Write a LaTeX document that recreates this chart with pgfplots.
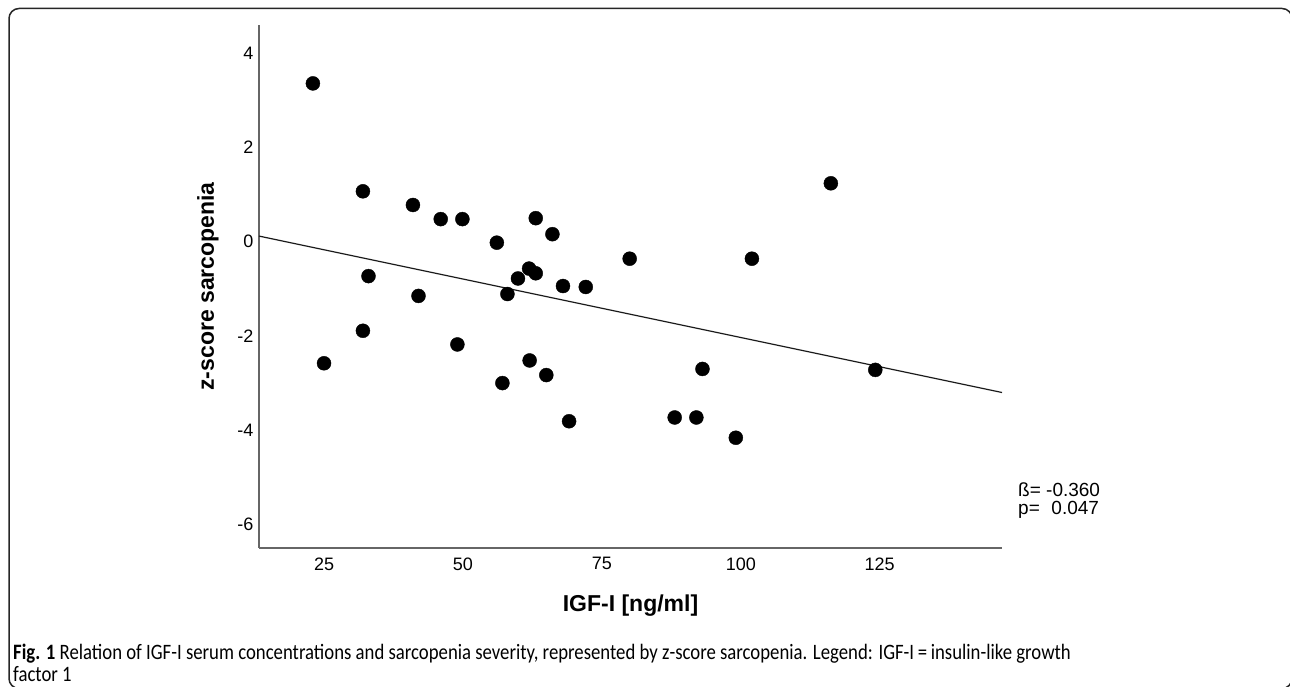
\documentclass[border=0pt]{standalone}
\usepackage{fontspec}
\setmainfont{Liberation Sans}
\newfontfamily\capfont[FakeStretch=0.852]{Carlito}
\usepackage{pgfplots}
\pgfplotsset{compat=1.18}

\begin{document}
\begin{tikzpicture}[x=1pt,y=1pt]
\useasboundingbox (0,0) rectangle (1290,687);
% figure frame
\draw[line width=1.5pt, rounded corners=10pt, black!85] (9,-1.5) rectangle (1292,678.5);

\begin{axis}[
   at={(259pt,139pt)}, anchor=south west,
   scale only axis, width=743pt, height=523pt,
   xmin=13.3, xmax=147, ymin=-6.5, ymax=4.6,
   axis x line*=bottom, axis y line*=left,
   axis line style={-, black!60, line width=1.2pt},
   xtick={25,50,75,100,125}, ytick={-6,-4,-2,0,2,4},
   major tick length=0pt,
   tick label style={font=\fontsize{18}{20}\selectfont},
   xticklabel style={yshift=-6pt},
   yticklabel style={xshift=-2pt},
   /pgf/number format/assume math mode=true,
   xlabel={IGF-I [ng/ml]},
   ylabel={z-score sarcopenia},
   label style={font=\fontsize{23}{26}\selectfont\bfseries},
   xlabel style={at={(axis description cs:0.5,0)}, anchor=center, yshift=-58pt},
   ylabel style={at={(axis description cs:0,0.5)}, anchor=center, yshift=51pt},
   clip=false,
]
% regression line
\addplot[black!90, line width=1.2pt, no marks] coordinates {(13.3,0.12) (147,-3.20)};
% observations
\addplot[only marks, mark=*, mark size=7pt, black] coordinates {
(23.0,3.36) (32.0,1.07) (41.0,0.78) (46.0,0.48) (49.9,0.48) (33.0,-0.73)
(42.0,-1.15) (32.0,-1.89) (25.0,-2.58) (49.0,-2.18)
(63.1,0.50) (66.1,0.16) (56.1,-0.02) (80.0,-0.36) (102.0,-0.36)
(61.9,-0.57) (63.1,-0.67) (59.9,-0.78) (68.0,-0.94) (72.1,-0.96)
(58.0,-1.11) (62.0,-2.52) (57.1,-3.00) (65.0,-2.83) (69.1,-3.81)
(88.1,-3.73) (92.0,-3.73) (93.1,-2.70) (99.1,-4.16)
(116.2,1.24) (124.2,-2.72)
};
\end{axis}

% statistics
\node[anchor=base west, inner sep=0, font=\fontsize{19}{21}\selectfont] at (1018,190) {ß= -0.360};
\node[anchor=base west, inner sep=0, font=\fontsize{19}{21}\selectfont] at (1018,172) {p= \phantom{-}0.047};

% caption
\node[anchor=base west, inner sep=0, font=\capfont\fontsize{22}{27}\selectfont] at (13,27)
  {\textbf{Fig. 1} Relation of IGF-I serum concentrations and sarcopenia severity, represented by z-score sarcopenia. Legend: IGF-I\,=\,insulin-like growth};
\node[anchor=base west, inner sep=0, font=\capfont\fontsize{22}{27}\selectfont] at (13,5) {factor 1};
\end{tikzpicture}
\end{document}
